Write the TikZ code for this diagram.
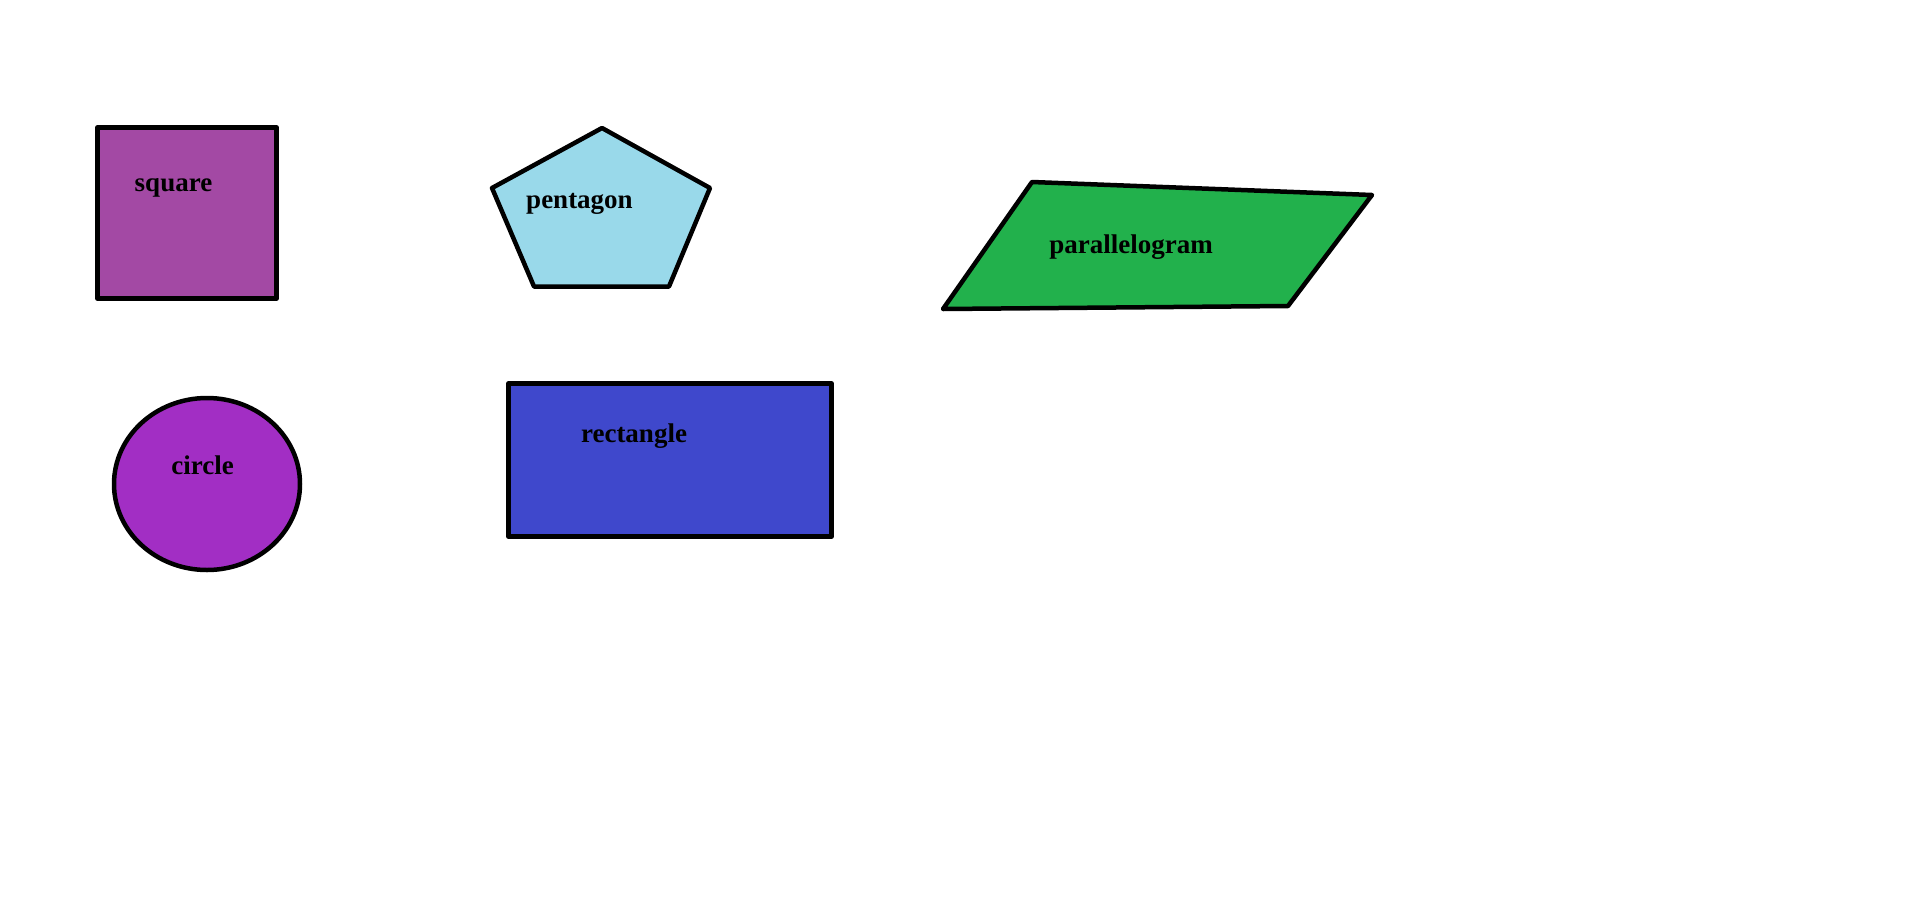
\documentclass[tikz,border=0pt]{standalone}
\usepackage{fontspec}
\newfontfamily\shapefont{Liberation Serif}[BoldFont={* Bold}]
\definecolor{sqpurple}{HTML}{A349A4}
\definecolor{pentblue}{HTML}{99D9EA}
\definecolor{paragreen}{HTML}{22B14C}
\definecolor{circviolet}{HTML}{A22EC4}
\definecolor{rectindigo}{HTML}{3F48CC}

\begin{document}
\begin{tikzpicture}[x=1pt, y=-1pt, line width=4.5pt, line join=round,
    every node/.style={anchor=base, inner sep=0pt, font=\shapefont\bfseries\fontsize{27}{27}\selectfont}]

    \useasboundingbox (0,0) rectangle (1914,897);

    % Shapes
    \draw [fill=sqpurple] (97.5,127.5) rectangle (276.5,298.5);
    \draw [fill=pentblue] (602,128) -- (710,188) -- (669,286.5) -- (534,286.5) -- (492,188) -- cycle;
    \draw [fill=paragreen] (1032,182) -- (1372,195) -- (1288,306) -- (943,309) -- cycle;
    \draw [fill=circviolet] (207,484) ellipse [x radius=93, y radius=86];
    \draw [fill=rectindigo] (508.5,383.5) rectangle (831.5,536.5);

    % Labels
    \node (Lsquare) at (173.5,191.5) {square};
    \node (Lpentagon) at (579.5,208) {pentagon};
    \node (Lparallelogram) at (1131,253) {parallelogram};
    \node (Lcircle) at (202.5,474) {circle};
    \node (Lrectangle) at (634,442) {rectangle};

\end{tikzpicture}
\end{document}
